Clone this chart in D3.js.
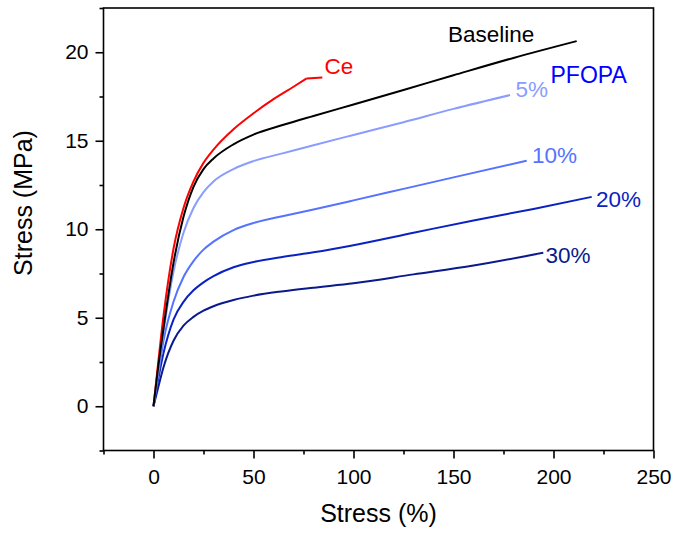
<!DOCTYPE html>
<html><head><meta charset="utf-8">
<script src="https://cdn.jsdelivr.net/npm/d3@7"></script>
<style>body{margin:0;background:#fff}svg{display:block;font-family:Arial,"Liberation Sans",sans-serif}</style>
</head><body>
<script>
// Data (strain %, stress MPa)
const ceX   = [0, 2, 5, 10, 15, 20, 25, 30, 40, 50, 60, 70, 76.6];
const ceY   = [0, 2.1, 5.1, 8.9, 11.2, 12.7, 13.75, 14.5, 15.65, 16.55, 17.35, 18.05, 18.52];
const ceEndX = [76.6, 84.4];
const ceEndY = [18.52, 18.57];
const baseX = [0, 2, 5, 10, 15, 20, 25, 30, 40, 50, 65, 80, 100, 125, 150, 180, 211.6];
const baseY = [0, 1.9, 4.4, 8.1, 10.7, 12.4, 13.4, 14.0, 14.8, 15.35, 15.9, 16.4, 17.05, 17.87, 18.7, 19.68, 20.63];
const p5X   = [0, 2, 5, 10, 15, 20, 25, 30, 40, 50, 65, 80, 100, 125, 150, 178.3];
const p5Y   = [0, 1.7, 4.2, 7.6, 9.8, 11.2, 12.1, 12.7, 13.4, 13.85, 14.3, 14.75, 15.33, 16.05, 16.8, 17.58];
const p10X  = [0, 2, 5, 10, 15, 20, 25, 30, 40, 50, 65, 80, 100, 125, 150, 186.6];
const p10Y  = [0, 1.5, 3.7, 5.9, 7.3, 8.2, 8.85, 9.3, 9.95, 10.35, 10.75, 11.12, 11.63, 12.28, 12.93, 13.87];
const p20X  = [0, 2, 5, 10, 15, 20, 25, 30, 40, 50, 65, 80, 100, 130, 160, 190, 219.1];
const p20Y  = [0, 1.3, 3.0, 4.9, 5.9, 6.55, 7.0, 7.35, 7.85, 8.15, 8.45, 8.7, 9.1, 9.8, 10.5, 11.15, 11.83];
const p30X  = [0, 2, 5, 10, 15, 20, 25, 30, 40, 50, 65, 80, 100, 130, 160, 194.9];
const p30Y  = [0, 0.9, 2.2, 3.7, 4.55, 5.05, 5.4, 5.65, 6.0, 6.25, 6.5, 6.7, 6.95, 7.45, 7.95, 8.67];
const xTicks = [0, 50, 100, 150, 200, 250];
const yTicks = [0, 5, 10, 15, 20];

const W = 675, H = 537;
const svg = d3.select("body").append("svg").attr("width", W).attr("height", H);
const x = d3.scaleLinear().domain([-25, 250]).range([103.5, 653.5]);
const y = d3.scaleLinear().domain([-2.5, 22.5]).range([450.5, 8]);
const FONT = "Arial, 'Liberation Sans', sans-serif";

// frame
svg.append("rect").attr("x", 103.5).attr("y", 8).attr("width", 550).attr("height", 442.5)
  .attr("fill", "none").attr("stroke", "#000").attr("stroke-width", 1.6);

// ticks
const xMinor = d3.range(-25, 251, 25).filter(v => v % 50 !== 0);
const yMinor = d3.range(-2.5, 22.6, 2.5).filter(v => v % 5 !== 0);
const gx = svg.append("g").attr("transform", "translate(0,450.5)")
  .call(d3.axisBottom(x).tickValues(xMinor).tickSize(4).tickFormat(""));
gx.select(".domain").remove();
const gx2 = svg.append("g").attr("transform", "translate(0,450.5)")
  .call(d3.axisBottom(x).tickValues(xTicks).tickSize(8).tickPadding(10.5).tickFormat(d3.format("d")));
gx2.select(".domain").remove();
gx2.selectAll("text").attr("font-size", 21).attr("fill", "#000").attr("font-family", FONT);

const gy = svg.append("g").attr("transform", "translate(103.5,0)")
  .call(d3.axisLeft(y).tickValues(yMinor).tickSize(4).tickFormat(""));
gy.select(".domain").remove();
const gy2 = svg.append("g").attr("transform", "translate(103.5,0)")
  .call(d3.axisLeft(y).tickValues(yTicks).tickSize(8).tickPadding(7).tickFormat(d3.format("d")));
gy2.select(".domain").remove();
gy2.selectAll("text").attr("font-size", 21).attr("fill", "#000").attr("font-family", FONT);
svg.selectAll(".tick line").attr("stroke-width", 1.6);

// axis titles
svg.append("text").attr("x", 378.5).attr("y", 522).attr("text-anchor", "middle")
  .attr("font-size", 25).attr("font-family", FONT).text("Stress (%)");
svg.append("text").attr("transform", "translate(32,203) rotate(-90)").attr("text-anchor", "middle")
  .attr("font-size", 25).attr("font-family", FONT).text("Stress (MPa)");

// curves
const line = d3.line().x(d => x(d[0])).y(d => y(d[1])).curve(d3.curveMonotoneX);
const lin = d3.line().x(d => x(d[0])).y(d => y(d[1]));
const series = [
  {xs: ceX, ys: ceY, c: "#ff0000"},
  {xs: p30X, ys: p30Y, c: "#0a1a8c"},
  {xs: p20X, ys: p20Y, c: "#0a22c2"},
  {xs: p10X, ys: p10Y, c: "#5573ff"},
  {xs: p5X, ys: p5Y, c: "#8a9cff"},
  {xs: baseX, ys: baseY, c: "#000000"}
];
series.forEach(s => {
  svg.append("path").datum(s.xs.map((v, i) => [v, s.ys[i]]))
    .attr("d", line).attr("fill", "none").attr("stroke", s.c).attr("stroke-width", 2);
});
svg.append("path").datum(ceEndX.map((v, i) => [v, ceEndY[i]]))
  .attr("d", lin).attr("fill", "none").attr("stroke", "#ff0000").attr("stroke-width", 2);

// labels
const labels = [
  {t: "Ce", x: 324.5, y: 74, c: "#ff0000", s: 22.5},
  {t: "Baseline", x: 448, y: 41.7, c: "#000000", s: 22.5},
  {t: "PFOPA", x: 550.5, y: 83.3, c: "#0000ff", s: 23},
  {t: "5%", x: 515.5, y: 97.3, c: "#8a9cff", s: 22.5},
  {t: "10%", x: 532, y: 163.3, c: "#5573ff", s: 22.5},
  {t: "20%", x: 596, y: 207.3, c: "#0a22c2", s: 22.5},
  {t: "30%", x: 545.5, y: 263.3, c: "#0a1a8c", s: 22.5}
];
labels.forEach(l => svg.append("text").attr("x", l.x).attr("y", l.y).attr("fill", l.c)
  .attr("font-size", l.s).attr("font-family", FONT).text(l.t));
</script>
</body></html>
